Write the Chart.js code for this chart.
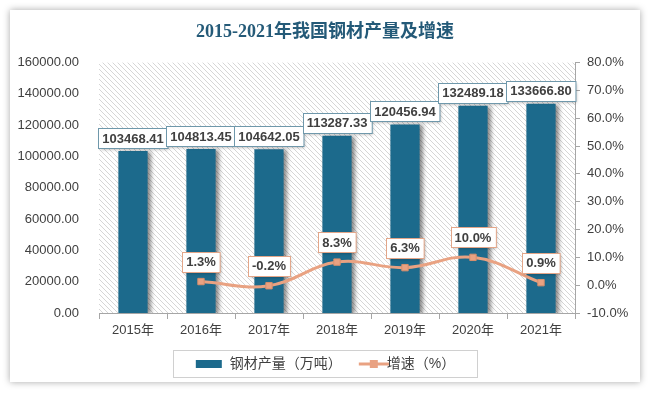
<!DOCTYPE html>
<html>
<head>
<meta charset="utf-8">
<script src="https://cdn.jsdelivr.net/npm/chart.js@4"></script>
<style>
  html, body { margin: 0; padding: 0; background: #fff; }
  .card {
    position: absolute; left: 10px; top: 10px; width: 630px; height: 372px;
    background: #fff; box-shadow: 0 0 7px rgba(0, 0, 0, 0.35);
  }
  #wrap { position: absolute; left: 0; top: 0; width: 650px; height: 394px; }
</style>
</head>
<body>
<div class="card"></div>
<div id="wrap"><canvas id="chart"></canvas></div>
<script>
// Chart data
const years = ['2015年', '2016年', '2017年', '2018年', '2019年', '2020年', '2021年'];
const steelOutput = [103468.41, 104813.45, 104642.05, 113287.33, 120456.94, 132489.18, 133666.80];
const growthRate = [null, 1.3, -0.2, 8.3, 6.3, 10.0, 0.9];

const BAR_COLOR = '#1c6a8c';
const LINE_COLOR = '#e9a282';
const TEXT_COLOR = '#404040';
const FONT = '"Liberation Sans", "Noto Sans CJK SC", sans-serif';

Chart.defaults.font.family = FONT;
Chart.defaults.color = TEXT_COLOR;

// diagonal hatch behind the plot
function makeHatch() {
    const c = document.createElement('canvas');
    c.width = 5; c.height = 5;
    const g = c.getContext('2d');
    g.strokeStyle = '#d6d6d6';
    g.lineWidth = 1;
    g.beginPath();
    g.moveTo(-1, -1); g.lineTo(6, 6);
    g.moveTo(-1, 4); g.lineTo(1, 6);
    g.moveTo(4, -1); g.lineTo(6, 1);
    g.stroke();
    return c;
}

// legend swatches
function barSwatch() {
    const c = document.createElement('canvas');
    c.width = 28; c.height = 8;
    const g = c.getContext('2d');
    g.fillStyle = BAR_COLOR;
    g.fillRect(1, 0, 26, 8);
    return c;
}
function lineSwatch() {
    const c = document.createElement('canvas');
    c.width = 46; c.height = 10;
    const g = c.getContext('2d');
    g.strokeStyle = LINE_COLOR;
    g.lineWidth = 3;
    g.beginPath(); g.moveTo(16, 5); g.lineTo(46, 5); g.stroke();
    g.fillStyle = LINE_COLOR;
    g.fillRect(27, 1, 8, 8);
    return c;
}

const hatchPlugin = {
    id: 'hatch',
    beforeDatasetsDraw(chart) {
        const { ctx, chartArea: a } = chart;
        ctx.save();
        ctx.fillStyle = ctx.createPattern(makeHatch(), 'repeat');
        ctx.fillRect(a.left, a.top, a.right - a.left, a.bottom - a.top);
        ctx.restore();
    },
    beforeDatasetDraw(chart, args) {
        if (args.index === 0) {
            const ctx = chart.ctx;
            ctx.save();
            ctx.shadowColor = 'rgba(0,0,0,0.45)';
            ctx.shadowBlur = 4;
            ctx.shadowOffsetX = 3;
            ctx.shadowOffsetY = 1;
        }
    },
    afterDatasetDraw(chart, args) {
        if (args.index === 0) chart.ctx.restore();
    }
};

function drawLabel(ctx, text, cx, cy, border) {
    ctx.save();
    ctx.font = 'bold 13px ' + FONT;
    const w = ctx.measureText(text).width + 8;
    const h = 20;
    const x = Math.round(cx - w / 2) + 0.5, y = Math.round(cy - h / 2) + 0.5;
    ctx.shadowColor = 'rgba(0,0,0,0.3)';
    ctx.shadowBlur = 3;
    ctx.shadowOffsetX = 1;
    ctx.shadowOffsetY = 1;
    ctx.fillStyle = '#fff';
    ctx.fillRect(x, y, w, h);
    ctx.shadowColor = 'transparent';
    ctx.strokeStyle = border;
    ctx.lineWidth = 1;
    ctx.strokeRect(x, y, w, h);
    ctx.fillStyle = TEXT_COLOR;
    ctx.textAlign = 'center';
    ctx.textBaseline = 'middle';
    ctx.fillText(text, cx, cy + 1);
    ctx.restore();
}

const labelPlugin = {
    id: 'boxLabels',
    afterDatasetsDraw(chart) {
        const ctx = chart.ctx;
        chart.getDatasetMeta(0).data.forEach((el, i) => {
            drawLabel(ctx, steelOutput[i].toFixed(2), el.x, el.y - 13, '#6f98ab');
        });
        chart.getDatasetMeta(1).data.forEach((el, i) => {
            if (growthRate[i] === null) return;
            drawLabel(ctx, growthRate[i].toFixed(1) + '%', el.x, el.y - 20, '#e3a689');
        });
    },
    afterDraw(chart) {
        const boxes = chart.legend.legendHitBoxes;
        if (!boxes || !boxes.length) return;
        const left = Math.min(...boxes.map(b => b.left));
        const right = Math.max(...boxes.map(b => b.left + b.width));
        const mid = boxes[0].top + boxes[0].height / 2;
        const ctx = chart.ctx;
        ctx.save();
        ctx.strokeStyle = '#d0d0d0';
        ctx.lineWidth = 1;
        ctx.strokeRect(Math.round(left - 22) + 0.5, Math.round(mid - 14) + 0.5,
            Math.round(right - left + 44), 27);
        ctx.restore();
    }
};

new Chart(document.getElementById('chart'), {
    type: 'bar',
    data: {
        labels: years,
        datasets: [{
            label: '钢材产量（万吨）',
            data: steelOutput,
            backgroundColor: BAR_COLOR,
            barPercentage: 0.43,
            categoryPercentage: 1,
            yAxisID: 'y',
            order: 1
        }, {
            type: 'line',
            label: '增速（%）',
            data: growthRate,
            borderColor: LINE_COLOR,
            backgroundColor: LINE_COLOR,
            borderWidth: 3,
            pointStyle: 'rect',
            pointRadius: 4.5,
            pointBackgroundColor: LINE_COLOR,
            pointBorderColor: '#d98f6c',
            pointBorderWidth: 1,
            tension: 0.4,
            spanGaps: false,
            yAxisID: 'y1',
            order: 0
        }]
    },
    options: {
        responsive: true,
        maintainAspectRatio: false,
        animation: false,
        layout: {
            padding: { left: 10, right: 10, top: 0, bottom: 13 }
        },
        plugins: {
            title: {
                display: true,
                text: '2015-2021年我国钢材产量及增速',
                color: '#245a78',
                font: { size: 18, weight: 'bold', family: '"Liberation Serif", "Noto Sans CJK SC", serif' },
                padding: { top: 22, bottom: 19 }
            },
            legend: {
                position: 'bottom',
                labels: {
                    usePointStyle: true,
                    pointStyleWidth: 28,
                    padding: 10,
                    color: TEXT_COLOR,
                    font: { size: 14 },
                    sort: (a, b) => a.datasetIndex - b.datasetIndex,
                    generateLabels(chart) {
                        const items = Chart.defaults.plugins.legend.labels.generateLabels(chart);
                        items.forEach(it => {
                            it.pointStyle = it.datasetIndex === 0 ? barSwatch() : lineSwatch();
                        });
                        return items;
                    }
                }
            },
            tooltip: { enabled: false }
        },
        scales: {
            x: {
                grid: { display: true, drawOnChartArea: false, tickLength: 6, color: '#a6a6a6' },
                border: { display: true, color: '#a6a6a6' },
                ticks: { padding: 4, font: { size: 13 }, color: TEXT_COLOR },
                afterFit(s) { s.height = 34; }
            },
            y: {
                position: 'left',
                min: 0,
                max: 160000,
                grid: { display: false },
                border: { display: false },
                ticks: {
                    stepSize: 20000,
                    padding: 12,
                    font: { size: 13 },
                    color: TEXT_COLOR,
                    callback: v => v.toFixed(2)
                },
                afterFit(s) { s.width = 89; }
            },
            y1: {
                position: 'right',
                min: -10,
                max: 80,
                grid: { display: true, drawOnChartArea: false, tickLength: 5, color: '#a6a6a6' },
                border: { display: true, color: '#a6a6a6' },
                ticks: {
                    stepSize: 10,
                    padding: 7,
                    font: { size: 13 },
                    color: TEXT_COLOR,
                    callback: v => v.toFixed(1) + '%'
                },
                afterFit(s) { s.width = 65; }
            }
        }
    },
    plugins: [hatchPlugin, labelPlugin]
});
</script>
</body>
</html>
